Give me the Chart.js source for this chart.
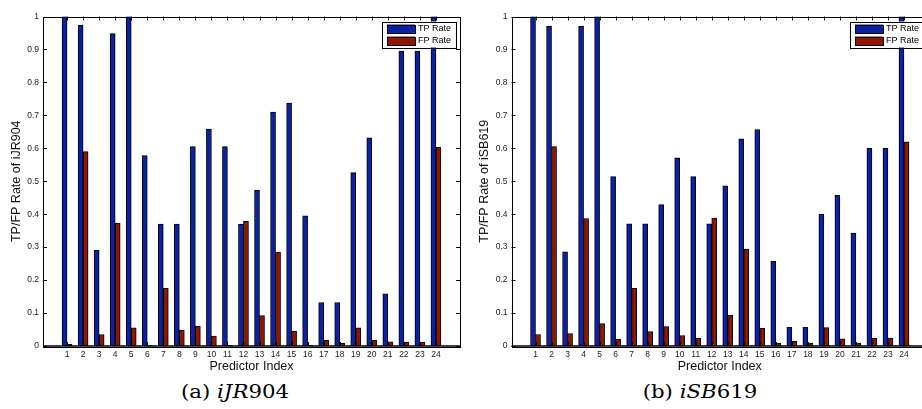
<!DOCTYPE html>
<html>
<head>
<meta charset="utf-8">
<script src="https://cdn.jsdelivr.net/npm/chart.js@4.4.1/dist/chart.umd.min.js"></script>
<style>
  html, body { margin: 0; padding: 0; background: #fff; }
  #wrap { position: relative; width: 922px; height: 409px; overflow: hidden; background: #fff; }
  canvas { position: absolute; top: 0; }
  .cap { position: absolute; top: 381px; line-height: 22px; font-family: "DejaVu Serif", "Liberation Serif", serif; font-size: 18.5px; color: #000; transform: translateX(-50%) scaleX(1.15); white-space: nowrap; }
</style>
</head>
<body>
<div id="wrap">
  <canvas id="chartA" width="466" height="380" style="left:0px"></canvas>
  <canvas id="chartB" width="466" height="380" style="left:468px"></canvas>
  <div class="cap" style="left:235px">(a) <i>iJR</i>904</div>
  <div class="cap" style="left:700px">(b) <i>iSB</i>619</div>
</div>
<script>
// --- data ---
const predictors = [1, 2, 3, 4, 5, 6, 7, 8, 9, 10, 11, 12, 13, 14, 15, 16, 17, 18, 19, 20, 21, 22, 23, 24];
const seriesLabels = ['TP Rate', 'FP Rate'];
const yTicks = [0, 0.1, 0.2, 0.3, 0.4, 0.5, 0.6, 0.7, 0.8, 0.9, 1];

// iJR904
const tpJR = [1.0, 0.974, 0.29, 0.948, 1.0, 0.578, 0.37, 0.37, 0.605, 0.658, 0.605, 0.37,
              0.473, 0.71, 0.737, 0.395, 0.132, 0.132, 0.526, 0.632, 0.158, 0.895, 0.895, 1.0];
const fpJR = [0.005, 0.59, 0.035, 0.373, 0.055, 0.002, 0.175, 0.048, 0.06, 0.03, 0.002, 0.378,
              0.092, 0.285, 0.045, 0.002, 0.017, 0.008, 0.055, 0.018, 0.013, 0.012, 0.012, 0.603];

// iSB619
const tpSB = [1.0, 0.971, 0.286, 0.971, 1.0, 0.514, 0.371, 0.371, 0.429, 0.571, 0.514, 0.371,
              0.486, 0.629, 0.657, 0.257, 0.057, 0.057, 0.4, 0.457, 0.343, 0.6, 0.6, 1.0];
const fpSB = [0.035, 0.605, 0.038, 0.387, 0.068, 0.02, 0.175, 0.044, 0.059, 0.032, 0.023, 0.388,
              0.093, 0.294, 0.054, 0.008, 0.014, 0.008, 0.056, 0.022, 0.008, 0.023, 0.023, 0.62];

const BLUE = '#0a20a6';
const RED = '#8e1600';
const SANS = "'Liberation Sans', Arial, sans-serif";

// kotak sumbu, tick ke dalam, dan legenda gaya MATLAB
const matlabFrame = {
    id: 'matlabFrame',
    afterDatasetsDraw(chart) {
        const { ctx, chartArea: a, scales } = chart;
        ctx.save();
        ctx.strokeStyle = '#000';
        ctx.lineWidth = 1;
        ctx.beginPath();
        yTicks.forEach(v => {
            const y = Math.round(scales.y.getPixelForValue(v)) + 0.5;
            ctx.moveTo(a.left, y); ctx.lineTo(a.left + 4, y);
            ctx.moveTo(a.right, y); ctx.lineTo(a.right - 4, y);
        });
        predictors.forEach(p => {
            const x = Math.round(scales.x.getPixelForValue(p)) + 0.5;
            ctx.moveTo(x, a.top); ctx.lineTo(x, a.top + 4);
            ctx.moveTo(x, a.bottom); ctx.lineTo(x, a.bottom - 4);
        });
        ctx.stroke();
        ctx.strokeRect(Math.round(a.left) + 0.5, Math.round(a.top) + 0.5,
                       Math.round(a.right - a.left), Math.round(a.bottom - a.top));
        ctx.lineWidth = 1.5;
        ctx.beginPath();
        ctx.moveTo(a.left, a.bottom); ctx.lineTo(a.right, a.bottom);
        ctx.stroke();

        // legenda
        const bw = 73.5, bh = 26;
        const bx = a.right - 4.5 - bw, by = a.top + 5;
        ctx.fillStyle = '#fff';
        ctx.fillRect(bx, by, bw, bh);
        ctx.lineWidth = 1;
        ctx.strokeRect(Math.round(bx) + 0.5, Math.round(by) + 0.5, Math.round(bw), Math.round(bh));
        ctx.font = '9px ' + SANS;
        ctx.textBaseline = 'middle';
        chart.data.datasets.forEach((ds, i) => {
            const cy = by + 7 + i * 12;
            ctx.fillStyle = ds.backgroundColor;
            ctx.fillRect(bx + 5, cy - 4, 28, 8.5);
            ctx.strokeRect(Math.round(bx + 5) + 0.5, Math.round(cy - 4) + 0.5, 28, 8);
            ctx.fillStyle = '#000';
            ctx.fillText(ds.label, bx + 36, cy + 0.5);
        });
        ctx.restore();
    }
};

function buildChart(canvasId, tp, fp, yTitle, yWidth) {
    const ctx = document.getElementById(canvasId);
    return new Chart(ctx, {
        type: 'bar',
        data: {
            datasets: [
                {
                    label: seriesLabels[0],
                    data: predictors.map((p, i) => ({ x: p, y: tp[i] })),
                    backgroundColor: BLUE,
                    borderColor: '#000',
                    borderWidth: 1,
                    barThickness: 5
                },
                {
                    label: seriesLabels[1],
                    data: predictors.map((p, i) => ({ x: p, y: fp[i] })),
                    backgroundColor: RED,
                    borderColor: '#000',
                    borderWidth: 1,
                    barThickness: 5
                }
            ]
        },
        options: {
            responsive: false,
            animation: false,
            devicePixelRatio: 1,
            layout: { padding: { top: 16.5, right: 6, left: 0, bottom: 0 } },
            plugins: {
                legend: { display: false },
                tooltip: { enabled: false }
            },
            scales: {
                x: {
                    type: 'linear',
                    min: 0,
                    max: 25,
                    afterFit: s => { s.height = 34; },
                    grid: { display: false, drawTicks: false },
                    border: { display: false },
                    ticks: {
                        stepSize: 1,
                        autoSkip: false,
                        maxRotation: 0,
                        padding: 4,
                        color: '#222',
                        font: { family: SANS, size: 8.5 },
                        callback: v => (v >= 1 && v <= 24) ? String(v) : ''
                    },
                    title: {
                        display: true,
                        text: 'Predictor Index',
                        color: '#111',
                        font: { family: SANS, size: 12.5 },
                        padding: { top: 0, bottom: 5.5 }
                    }
                },
                y: {
                    min: 0,
                    max: 1,
                    afterFit: s => { s.width = yWidth; },
                    afterBuildTicks: s => { s.ticks = yTicks.map(v => ({ value: v })); },
                    grid: { display: false, drawTicks: false },
                    border: { display: false },
                    ticks: {
                        padding: 4,
                        color: '#222',
                        font: { family: SANS, size: 8.5 },
                        callback: v => String(+v.toFixed(1))
                    },
                    title: {
                        display: true,
                        text: yTitle,
                        color: '#111',
                        font: { family: SANS, size: 12.5 },
                        padding: { top: 9.5, bottom: 0 }
                    }
                }
            }
        },
        plugins: [matlabFrame]
    });
}

buildChart('chartA', tpJR, fpJR, 'TP/FP Rate of iJR904', 43);
buildChart('chartB', tpSB, fpSB, 'TP/FP Rate of iSB619', 43.5);
</script>
</body>
</html>
